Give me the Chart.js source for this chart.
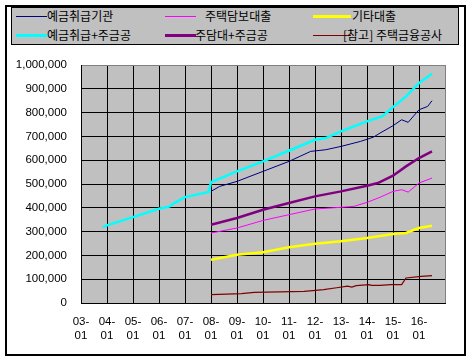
<!DOCTYPE html>
<html>
<head>
<meta charset="utf-8">
<script src="https://cdn.jsdelivr.net/npm/chart.js@4/dist/chart.umd.min.js"></script>
<style>
  html, body { margin: 0; padding: 0; background: #ffffff; }
  #wrap { position: relative; width: 472px; height: 361px; overflow: hidden; }
  #c { position: absolute; left: 0; top: 0; }
  #frame { position: absolute; left: 5px; top: 5px; width: 457px; height: 347px; border: 2px solid #000; }
  #legend { position: absolute; left: 11px; top: 7px; width: 446px; height: 36px; background: #c0c0c0; border: 1px solid #000; }
  .sw { position: absolute; height: 0; }
  .lt { position: absolute; font-family: "Noto Sans CJK KR", "Noto Sans", sans-serif; font-size: 12px; line-height: 14px; color: #000; white-space: nowrap; }
</style>
</head>
<body>
<div id="wrap">
  <canvas id="c" width="472" height="361"></canvas>
  <div id="frame"></div>
  <div id="legend"></div>
</div>
<script>
// ---- data (month index: 0 = 2003-01) ----
const yearLabels = ['03-', '04-', '05-', '06-', '07-', '08-', '09-', '10-', '11-', '12-', '13-', '14-', '15-', '16-'];
const monthLabel = '01';

const seriesNames = ['예금취급기관', '주택담보대출', '기타대출', '예금취급+주금공', '주담대+주금공', '[참고] 주택금융공사'];

const depositMonths = [60, 64, 72, 78, 84, 90, 96, 101, 106, 113, 120, 129, 135, 138, 144, 148, 151, 156, 160, 162];
const depositValues = [469000, 490000, 511000, 532000, 553000, 574000, 595000, 616000, 637000, 644000, 658000, 679000, 697000, 714000, 745000, 770000, 759000, 812000, 826000, 850000];

const mortgageMonths = [60, 72, 84, 96, 108, 120, 126, 132, 138, 144, 148, 151, 156, 162];
const mortgageValues = [294000, 315000, 347000, 371000, 395000, 402000, 406000, 423000, 444000, 469000, 476000, 466000, 504000, 525000];

const otherMonths = [60, 72, 84, 96, 108, 120, 132, 144, 150, 156, 162];
const otherValues = [182000, 203000, 213000, 234000, 249000, 259000, 273000, 290000, 294000, 315000, 325000];

const depositPlusMonths = [10, 12, 24, 36, 41, 43, 48, 59, 60, 72, 84, 97, 108, 113, 120, 132, 139, 144, 150, 156, 162];
const depositPlusValues = [319000, 326000, 361000, 396000, 406000, 420000, 445000, 467000, 508000, 553000, 595000, 644000, 686000, 693000, 721000, 763000, 784000, 823000, 868000, 924000, 963000];

const mortgagePlusMonths = [60, 72, 84, 96, 108, 120, 132, 137, 144, 150, 156, 162];
const mortgagePlusValues = [329000, 357000, 392000, 420000, 448000, 469000, 493000, 504000, 535000, 574000, 609000, 637000];

const hfMonths = [60, 74, 80, 103, 112, 118, 123, 125, 127, 133, 134, 138, 143, 148, 150, 157, 162];
const hfValues = [35000, 39000, 45000, 49000, 56000, 64000, 71000, 67000, 73000, 77000, 74000, 74000, 77000, 77000, 105000, 112000, 115000];

// ---- styles ----
const colors = ['#000080', '#ff00ff', '#ffff00', '#00ffff', '#800080', '#800000'];
const widths = [1, 1, 2.5, 2.5, 2.5, 1.2];
const legendWidths = [1, 1, 3, 3, 3, 1];

function pts(ms, vs) { return ms.map((m, i) => ({ x: m, y: vs[i] })); }
const seriesData = [
  pts(depositMonths, depositValues),
  pts(mortgageMonths, mortgageValues),
  pts(otherMonths, otherValues),
  pts(depositPlusMonths, depositPlusValues),
  pts(mortgagePlusMonths, mortgagePlusValues),
  pts(hfMonths, hfValues)
];

const drawOrder = [5, 1, 0, 2, 4, 3]; // lower order drawn on top
const datasets = seriesNames.map((n, i) => ({
  label: n,
  data: seriesData[i],
  borderColor: colors[i],
  backgroundColor: colors[i],
  borderWidth: widths[i],
  pointRadius: 0,
  tension: 0,
  fill: false,
  order: drawOrder[i]
}));

const plotBg = {
  id: 'plotBg',
  beforeDraw(chart) {
    const { ctx, chartArea: a } = chart;
    ctx.save();
    ctx.fillStyle = '#c0c0c0';
    ctx.fillRect(a.left, a.top, a.right - a.left, a.bottom - a.top);
    ctx.restore();
  }
};

const tickFont = { family: '"Liberation Sans", Arial, sans-serif', size: 11.5 };

new Chart(document.getElementById('c'), {
  type: 'line',
  data: { datasets },
  options: {
    responsive: false,
    animation: false,
    events: [],
    layout: { padding: { left: 0, right: 27, top: 65, bottom: 0 } },
    plugins: { legend: { display: false }, tooltip: { enabled: false } },
    scales: {
      x: {
        type: 'linear',
        min: 0,
        max: 168,
        afterFit(s) { s.height = 58; },
        border: { color: '#000', width: 1 },
        grid: {
          color: (c) => (c.tick && c.tick.value === 168 ? '#808080' : '#000'),
          lineWidth: 1,
          drawTicks: false
        },
        ticks: {
          stepSize: 12,
          autoSkip: false,
          maxRotation: 0,
          padding: 12,
          color: '#000',
          font: tickFont,
          callback: (v) => {
            const i = Math.round(v / 12);
            return i < yearLabels.length ? [yearLabels[i], monthLabel] : '';
          }
        }
      },
      y: {
        min: 0,
        max: 1000000,
        afterFit(s) { s.width = 81; },
        border: { color: '#000', width: 1 },
        grid: {
          color: (c) => (c.tick && c.tick.value === 1000000 ? '#808080' : '#000'),
          lineWidth: 1,
          drawTicks: false
        },
        ticks: {
          stepSize: 100000,
          padding: 14,
          color: '#000',
          font: tickFont,
          callback: (v) => v.toLocaleString('en-US')
        }
      }
    }
  },
  plugins: [plotBg]
});

// ---- legend (HTML, built from series names/colours) ----
const legend = document.getElementById('legend');
const slotX = [[4, 35], [153, 184], [301, 339]];
const textX = [[35, 193, 340], [35, 183, 331]];
const rowY = [8, 27];
seriesNames.forEach((n, i) => {
  const row = Math.floor(i / 3), col = i % 3;
  const sw = document.createElement('div');
  sw.className = 'sw';
  sw.style.left = slotX[col][0] + 'px';
  sw.style.width = (slotX[col][1] - slotX[col][0]) + 'px';
  sw.style.top = (rowY[row] - Math.floor(legendWidths[i] / 2)) + 'px';
  sw.style.borderTop = legendWidths[i] + 'px solid ' + colors[i];
  legend.appendChild(sw);
  const t = document.createElement('div');
  t.className = 'lt';
  t.textContent = n;
  t.style.left = textX[row][col] + 'px';
  t.style.top = (rowY[row] - 7) + 'px';
  legend.appendChild(t);
});
</script>
</body>
</html>
